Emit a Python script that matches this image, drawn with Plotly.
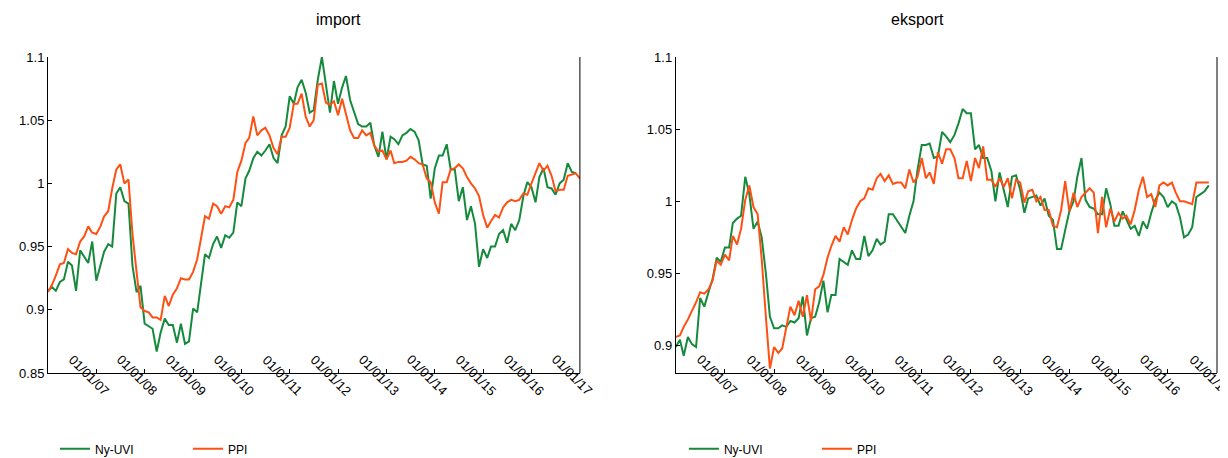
import plotly.graph_objects as go
import pandas as pd

imp_uvi = [0.915,0.918,0.915,0.922,0.924,0.938,0.935,0.915,0.947,0.942,0.937,0.954,
0.923,0.935,0.946,0.952,0.950,0.992,0.997,0.986,0.984,0.935,0.914,0.919,
0.889,0.887,0.885,0.867,0.882,0.893,0.888,0.888,0.874,0.889,0.873,0.875,
0.901,0.898,0.920,0.944,0.941,0.952,0.958,0.949,0.959,0.957,0.961,0.985,
0.982,1.004,1.010,1.020,1.025,1.022,1.026,1.031,1.020,1.016,1.038,1.045,
1.069,1.063,1.076,1.082,1.072,1.056,1.058,1.082,1.100,1.080,1.056,1.081,
1.063,1.076,1.085,1.066,1.056,1.047,1.045,1.045,1.048,1.030,1.021,1.041,
1.019,1.037,1.035,1.031,1.038,1.040,1.043,1.041,1.034,1.015,1.014,0.988,
1.012,1.022,1.022,1.031,1.011,1.011,0.986,0.997,0.971,0.982,0.968,0.934,
0.948,0.941,0.950,0.950,0.960,0.963,0.953,0.968,0.963,0.971,0.990,1.001,
0.997,0.985,1.005,1.012,0.997,0.996,0.991,1.000,1.003,1.016,1.009,1.008]
imp_ppi = [0.914,0.920,0.927,0.936,0.937,0.948,0.945,0.944,0.954,0.958,0.966,0.961,
0.960,0.966,0.974,0.978,0.996,1.011,1.015,1.000,1.003,0.960,0.930,0.902,
0.899,0.898,0.894,0.894,0.892,0.911,0.903,0.912,0.917,0.925,0.924,0.924,
0.930,0.940,0.956,0.974,0.972,0.984,0.982,0.976,0.982,0.981,0.987,1.009,
1.018,1.032,1.036,1.053,1.038,1.042,1.044,1.038,1.028,1.023,1.037,1.037,
1.044,1.063,1.063,1.071,1.053,1.045,1.050,1.078,1.079,1.064,1.062,1.065,
1.054,1.067,1.055,1.042,1.036,1.036,1.042,1.038,1.040,1.030,1.025,1.026,
1.019,1.026,1.016,1.017,1.017,1.018,1.021,1.019,1.016,1.015,1.004,1.001,
0.985,0.976,1.001,1.001,1.011,1.012,1.015,1.012,1.005,1.000,0.996,0.990,
0.975,0.965,0.970,0.975,0.973,0.981,0.985,0.987,0.986,0.987,0.992,0.991,
1.000,1.009,1.016,1.010,1.014,1.006,0.994,0.995,0.995,1.006,1.007,1.008,1.004]
eks_uvi = [0.899,0.904,0.893,0.906,0.901,0.899,0.933,0.927,0.937,0.946,0.961,0.958,
0.968,0.968,0.985,0.988,0.990,1.017,1.005,0.981,0.986,0.975,0.950,0.920,
0.912,0.912,0.914,0.913,0.917,0.916,0.919,0.934,0.907,0.919,0.920,0.930,
0.945,0.923,0.935,0.935,0.960,0.958,0.956,0.966,0.960,0.960,0.976,0.962,
0.966,0.974,0.970,0.972,0.991,0.991,0.987,0.982,0.978,0.990,1.000,1.022,
1.039,1.039,1.040,1.030,1.031,1.048,1.045,1.041,1.046,1.054,1.064,1.061,
1.061,1.036,1.039,1.030,1.030,1.021,1.000,1.020,1.008,0.996,1.017,1.018,
1.008,0.992,1.002,1.003,1.004,0.997,1.002,0.990,0.987,0.967,0.967,0.980,
0.993,1.000,1.017,1.030,1.001,0.996,0.995,0.991,0.991,1.009,0.998,0.983,
0.983,0.993,0.987,0.981,0.983,0.976,0.986,0.981,0.992,1.001,1.006,1.003,
0.996,1.000,0.998,0.989,0.975,0.977,0.982,1.003,1.005,1.007,1.011]
eks_ppi = [0.906,0.907,0.913,0.918,0.924,0.930,0.937,0.936,0.939,0.945,0.959,0.956,
0.963,0.959,0.976,0.970,0.981,1.001,1.011,0.996,0.991,0.960,0.920,0.884,
0.899,0.895,0.898,0.912,0.927,0.921,0.931,0.920,0.935,0.917,0.939,0.941,
0.949,0.961,0.969,0.976,0.972,0.982,0.977,0.987,0.995,1.000,1.002,1.009,
1.008,1.016,1.019,1.014,1.018,1.012,1.013,1.013,1.009,1.022,1.013,1.017,
1.030,1.016,1.020,1.012,1.034,1.026,1.036,1.036,1.030,1.016,1.016,1.028,
1.014,1.030,1.023,1.038,1.015,1.015,1.010,1.016,1.010,1.016,1.002,1.015,
1.013,0.999,1.007,1.008,1.000,1.003,0.994,0.994,0.983,0.982,0.994,1.014,
0.993,1.006,0.996,1.003,1.006,1.009,1.006,0.978,1.003,0.982,0.995,0.986,
0.992,0.988,0.990,0.984,0.994,1.008,1.017,1.003,1.005,0.996,1.011,1.013,
1.011,1.013,1.006,1.000,1.000,0.999,0.998,1.013,1.013,1.013,1.013]
titles = ["import", "eksport"]
tick_dates = pd.date_range("2007-01-01", "2017-01-01", freq="YS")
tick_labels = [d.strftime("%d/%m/%y") for d in tick_dates]

def dates(n):
    return pd.date_range("2006-01-01", periods=n, freq="MS")

GREEN = "#168a3c"; ORANGE = "#ff5014"
fig = go.Figure()
for i, (u, p) in enumerate([(imp_uvi, imp_ppi), (eks_uvi, eks_ppi)]):
    xa = "x" if i == 0 else "x2"; ya = "y" if i == 0 else "y2"
    lg = "legend" if i == 0 else "legend2"
    fig.add_trace(go.Scatter(x=dates(len(u)), y=u, mode="lines", name="Ny-UVI",
        line=dict(color=GREEN, width=2), xaxis=xa, yaxis=ya, legend=lg))
    fig.add_trace(go.Scatter(x=dates(len(p)), y=p, mode="lines", name="PPI",
        line=dict(color=ORANGE, width=2), xaxis=xa, yaxis=ya, legend=lg))

xcommon = dict(type="date", range=["2006-01-01", "2017-01-01"], tickvals=tick_dates,
    showticklabels=False, showgrid=False, zeroline=False, automargin=False,
    showline=True, linecolor="black", ticks="inside", ticklen=4, tickcolor="black")
ycommon = dict(showgrid=False, zeroline=False, showline=True, linecolor="black", automargin=False,
    ticks="inside", ticklen=4, tickcolor="black", tickfont=dict(size=13))
annots = [
    dict(text=titles[0], x=0.2275, y=1.085, xref="paper", yref="paper", showarrow=False,
         font=dict(size=16), yanchor="bottom"),
    dict(text=titles[1], x=0.7685, y=1.085, xref="paper", yref="paper", showarrow=False,
         font=dict(size=16), yanchor="bottom"),
]
for ax in ["x", "x2"]:
    for d, t in zip(tick_dates, tick_labels):
        annots.append(dict(text=t, x=d, y=0, xref=ax, yref=("y" if ax == "x" else "y2") + " domain",
                           showarrow=False, textangle=45, xanchor="center", yanchor="middle",
                           xshift=-7, yshift=-2, font=dict(size=13)))
fig.update_layout(
    width=1228, height=458, paper_bgcolor="white", plot_bgcolor="white",
    font=dict(family="Liberation Sans, Arial", size=12, color="black"),
    margin=dict(l=40, r=19, t=49, b=93, autoexpand=False),
    xaxis=dict(domain=[0, 0.455], anchor="y", **xcommon),
    xaxis2=dict(domain=[0.537, 1], anchor="y2", **xcommon),
    yaxis=dict(domain=[0, 1], anchor="x", range=[0.85, 1.1], tickvals=[0.85,0.9,0.95,1,1.05,1.1],
               ticktext=["0.85","0.9","0.95","1","1.05","1.1"], **ycommon),
    yaxis2=dict(domain=[0, 1], anchor="x2", range=[0.881, 1.1], tickvals=[0.9,0.95,1,1.05,1.1],
               ticktext=["0.9","0.95","1","1.05","1.1"], **ycommon),
    legend=dict(orientation="h", x=0.006, y=-0.24, xanchor="left", yanchor="middle",
                font=dict(size=12), itemwidth=30, entrywidth=88),
    legend2=dict(orientation="h", x=0.544, y=-0.24, xanchor="left", yanchor="middle",
                font=dict(size=12), itemwidth=30, entrywidth=88),
    annotations=annots,
    shapes=[
        dict(type="line", xref="x domain", yref="y domain", x0=1, x1=1, y0=0, y1=1, line=dict(color="black", width=1)),
        dict(type="line", xref="x2 domain", yref="y2 domain", x0=1, x1=1, y0=0, y1=1, line=dict(color="black", width=1)),
    ],
)
fig.write_html("out.html")
